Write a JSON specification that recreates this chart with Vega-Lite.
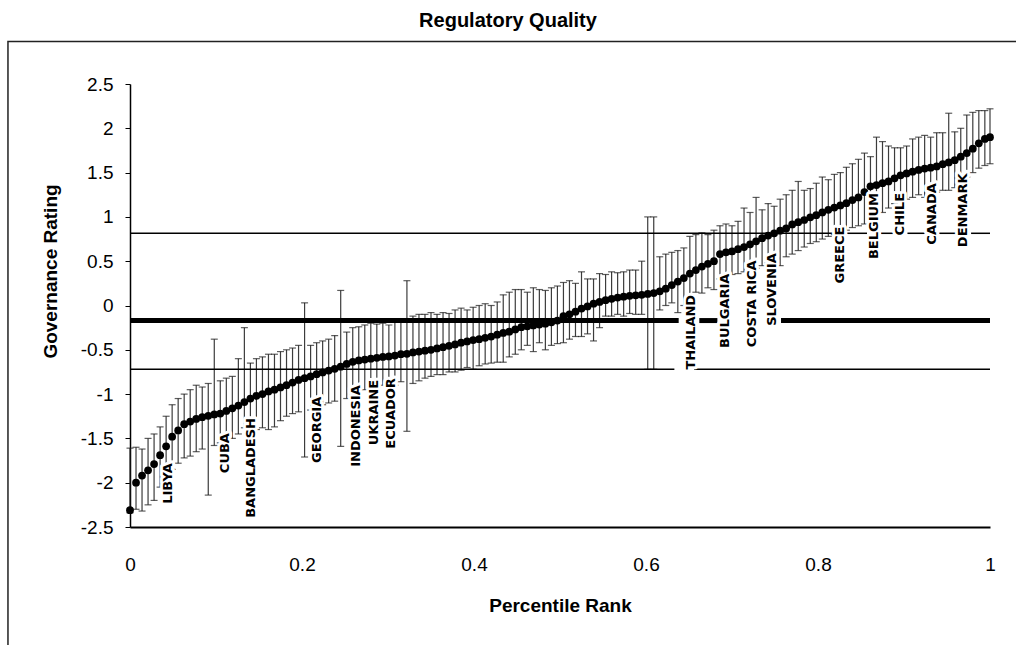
{
  "$schema": "https://vega.github.io/schema/vega-lite/v6.json",
  "width": 860,
  "height": 443,
  "autosize": {"type": "none"},
  "padding": {"left": 130, "top": 84, "right": 26, "bottom": 118},
  "background": "white",
  "title": {
    "text": "Regulatory Quality",
    "font": "Liberation Sans",
    "fontSize": 20,
    "fontWeight": "bold",
    "color": "black",
    "anchor": "middle",
    "frame": "group",
    "dx": -52,
    "offset": 10
  },
  "config": {
    "view": {"stroke": null},
    "axis": {"grid": false, "domainColor": "black", "tickColor": "black", "labelColor": "black", "titleColor": "black"}
  },
  "datasets": {
    "pts": [
      {"p":0,"v":-2.31,"lo":-2.34,"hi":-1.61},
      {"p":0.007,"v":-2.0,"lo":-2.3,"hi":-1.6},
      {"p":0.014,"v":-1.92,"lo":-2.32,"hi":-1.62},
      {"p":0.021,"v":-1.86,"lo":-2.25,"hi":-1.5},
      {"p":0.028,"v":-1.79,"lo":-2.2,"hi":-1.45},
      {"p":0.035,"v":-1.69,"lo":-2.05,"hi":-1.37},
      {"p":0.042,"v":-1.59,"lo":-1.96,"hi":-1.25},
      {"p":0.049,"v":-1.48,"lo":-1.85,"hi":-1.12},
      {"p":0.056,"v":-1.41,"lo":-1.78,"hi":-1.05},
      {"p":0.063,"v":-1.34,"lo":-1.72,"hi":-1.0},
      {"p":0.07,"v":-1.31,"lo":-1.7,"hi":-0.95},
      {"p":0.077,"v":-1.28,"lo":-1.65,"hi":-0.9},
      {"p":0.084,"v":-1.26,"lo":-1.62,"hi":-0.92},
      {"p":0.091,"v":-1.245,"lo":-2.14,"hi":-0.88},
      {"p":0.098,"v":-1.23,"lo":-1.58,"hi":-0.38},
      {"p":0.105,"v":-1.22,"lo":-1.55,"hi":-0.85},
      {"p":0.112,"v":-1.19,"lo":-1.53,"hi":-0.82},
      {"p":0.119,"v":-1.16,"lo":-1.5,"hi":-0.8},
      {"p":0.126,"v":-1.13,"lo":-1.45,"hi":-0.6},
      {"p":0.133,"v":-1.09,"lo":-1.38,"hi":-0.25},
      {"p":0.14,"v":-1.05,"lo":-1.42,"hi":-0.65},
      {"p":0.147,"v":-1.02,"lo":-1.4,"hi":-0.6},
      {"p":0.154,"v":-1.0,"lo":-1.38,"hi":-0.58},
      {"p":0.161,"v":-0.97,"lo":-1.4,"hi":-0.55},
      {"p":0.168,"v":-0.95,"lo":-1.37,"hi":-0.55},
      {"p":0.175,"v":-0.925,"lo":-1.3,"hi":-0.52},
      {"p":0.182,"v":-0.9,"lo":-1.25,"hi":-0.5},
      {"p":0.189,"v":-0.87,"lo":-1.22,"hi":-0.48},
      {"p":0.196,"v":-0.84,"lo":-1.2,"hi":-0.45},
      {"p":0.203,"v":-0.82,"lo":-1.71,"hi":0.03},
      {"p":0.21,"v":-0.8,"lo":-1.18,"hi":-0.45},
      {"p":0.217,"v":-0.775,"lo":-1.15,"hi":-0.42},
      {"p":0.224,"v":-0.755,"lo":-1.12,"hi":-0.4},
      {"p":0.231,"v":-0.735,"lo":-1.1,"hi":-0.38},
      {"p":0.238,"v":-0.715,"lo":-1.08,"hi":-0.34},
      {"p":0.245,"v":-0.69,"lo":-1.59,"hi":0.17},
      {"p":0.252,"v":-0.66,"lo":-1.05,"hi":-0.3},
      {"p":0.259,"v":-0.635,"lo":-1.0,"hi":-0.25},
      {"p":0.266,"v":-0.62,"lo":-0.95,"hi":-0.24},
      {"p":0.273,"v":-0.61,"lo":-0.95,"hi":-0.22},
      {"p":0.28,"v":-0.6,"lo":-0.92,"hi":-0.2},
      {"p":0.287,"v":-0.59,"lo":-0.92,"hi":-0.21},
      {"p":0.294,"v":-0.58,"lo":-0.9,"hi":-0.2},
      {"p":0.301,"v":-0.575,"lo":-0.88,"hi":-0.22},
      {"p":0.308,"v":-0.565,"lo":-0.9,"hi":-0.18},
      {"p":0.315,"v":-0.55,"lo":-0.86,"hi":-0.15},
      {"p":0.322,"v":-0.545,"lo":-1.42,"hi":0.28},
      {"p":0.329,"v":-0.53,"lo":-0.88,"hi":-0.12},
      {"p":0.336,"v":-0.52,"lo":-0.85,"hi":-0.1},
      {"p":0.343,"v":-0.51,"lo":-0.82,"hi":-0.1},
      {"p":0.35,"v":-0.5,"lo":-0.8,"hi":-0.08},
      {"p":0.357,"v":-0.485,"lo":-0.78,"hi":-0.1},
      {"p":0.364,"v":-0.47,"lo":-0.78,"hi":-0.08},
      {"p":0.371,"v":-0.455,"lo":-0.75,"hi":-0.09},
      {"p":0.378,"v":-0.44,"lo":-0.75,"hi":-0.05},
      {"p":0.385,"v":-0.42,"lo":-0.73,"hi":-0.03},
      {"p":0.392,"v":-0.405,"lo":-0.7,"hi":-0.05},
      {"p":0.399,"v":-0.39,"lo":-0.72,"hi":-0.02},
      {"p":0.406,"v":-0.38,"lo":-0.68,"hi":0.0},
      {"p":0.413,"v":-0.365,"lo":-0.66,"hi":0.02},
      {"p":0.42,"v":-0.35,"lo":-0.65,"hi":0.0},
      {"p":0.427,"v":-0.33,"lo":-0.64,"hi":0.04},
      {"p":0.434,"v":-0.31,"lo":-0.64,"hi":0.12},
      {"p":0.441,"v":-0.295,"lo":-0.58,"hi":0.15},
      {"p":0.448,"v":-0.27,"lo":-0.55,"hi":0.18},
      {"p":0.455,"v":-0.245,"lo":-0.5,"hi":0.18},
      {"p":0.462,"v":-0.235,"lo":-0.45,"hi":0.15},
      {"p":0.469,"v":-0.225,"lo":-0.52,"hi":0.2},
      {"p":0.476,"v":-0.215,"lo":-0.42,"hi":0.18},
      {"p":0.483,"v":-0.205,"lo":-0.5,"hi":0.17},
      {"p":0.49,"v":-0.19,"lo":-0.45,"hi":0.2},
      {"p":0.497,"v":-0.17,"lo":-0.43,"hi":0.22},
      {"p":0.504,"v":-0.12,"lo":-0.42,"hi":0.26},
      {"p":0.511,"v":-0.1,"lo":-0.38,"hi":0.28},
      {"p":0.518,"v":-0.07,"lo":-0.35,"hi":0.25},
      {"p":0.525,"v":-0.035,"lo":-0.35,"hi":0.38},
      {"p":0.532,"v":-0.01,"lo":-0.32,"hi":0.3},
      {"p":0.539,"v":0.02,"lo":-0.4,"hi":0.3},
      {"p":0.546,"v":0.04,"lo":-0.25,"hi":0.36},
      {"p":0.553,"v":0.06,"lo":-0.12,"hi":0.35},
      {"p":0.56,"v":0.075,"lo":-0.12,"hi":0.38},
      {"p":0.567,"v":0.09,"lo":-0.1,"hi":0.37},
      {"p":0.574,"v":0.1,"lo":-0.12,"hi":0.38},
      {"p":0.581,"v":0.11,"lo":-0.09,"hi":0.4},
      {"p":0.588,"v":0.115,"lo":-0.1,"hi":0.4},
      {"p":0.595,"v":0.12,"lo":-0.1,"hi":0.5},
      {"p":0.602,"v":0.13,"lo":-0.72,"hi":1.0},
      {"p":0.609,"v":0.14,"lo":-0.72,"hi":1.0},
      {"p":0.616,"v":0.16,"lo":-0.05,"hi":0.55},
      {"p":0.623,"v":0.19,"lo":0.0,"hi":0.58},
      {"p":0.63,"v":0.23,"lo":0.03,"hi":0.6},
      {"p":0.637,"v":0.27,"lo":-0.08,"hi":0.62},
      {"p":0.644,"v":0.31,"lo":0.0,"hi":0.65},
      {"p":0.651,"v":0.36,"lo":0.12,"hi":0.78},
      {"p":0.658,"v":0.4,"lo":0.15,"hi":0.8},
      {"p":0.665,"v":0.44,"lo":0.14,"hi":0.82},
      {"p":0.672,"v":0.47,"lo":0.2,"hi":0.8},
      {"p":0.679,"v":0.5,"lo":0.18,"hi":0.85},
      {"p":0.686,"v":0.58,"lo":0.3,"hi":0.9},
      {"p":0.693,"v":0.6,"lo":0.32,"hi":0.92},
      {"p":0.7,"v":0.61,"lo":0.35,"hi":0.9},
      {"p":0.707,"v":0.635,"lo":0.36,"hi":0.95},
      {"p":0.714,"v":0.66,"lo":0.38,"hi":1.1},
      {"p":0.721,"v":0.69,"lo":0.4,"hi":1.05},
      {"p":0.728,"v":0.725,"lo":0.42,"hi":1.22},
      {"p":0.735,"v":0.76,"lo":0.45,"hi":1.08},
      {"p":0.742,"v":0.79,"lo":0.48,"hi":1.15},
      {"p":0.749,"v":0.815,"lo":0.5,"hi":1.12},
      {"p":0.756,"v":0.845,"lo":0.45,"hi":1.2},
      {"p":0.763,"v":0.87,"lo":0.55,"hi":1.25},
      {"p":0.77,"v":0.915,"lo":0.58,"hi":1.3},
      {"p":0.777,"v":0.94,"lo":0.62,"hi":1.4},
      {"p":0.784,"v":0.965,"lo":0.66,"hi":1.3},
      {"p":0.791,"v":0.995,"lo":0.7,"hi":1.32},
      {"p":0.798,"v":1.02,"lo":0.72,"hi":1.38},
      {"p":0.805,"v":1.05,"lo":0.75,"hi":1.45},
      {"p":0.812,"v":1.08,"lo":0.78,"hi":1.42},
      {"p":0.819,"v":1.105,"lo":0.8,"hi":1.48},
      {"p":0.826,"v":1.13,"lo":0.85,"hi":1.5},
      {"p":0.833,"v":1.155,"lo":0.85,"hi":1.56},
      {"p":0.84,"v":1.19,"lo":0.88,"hi":1.6},
      {"p":0.847,"v":1.22,"lo":0.9,"hi":1.65},
      {"p":0.854,"v":1.28,"lo":0.92,"hi":1.72},
      {"p":0.861,"v":1.345,"lo":1.0,"hi":1.68},
      {"p":0.868,"v":1.36,"lo":0.95,"hi":1.9},
      {"p":0.875,"v":1.38,"lo":1.05,"hi":1.85},
      {"p":0.882,"v":1.4,"lo":1.1,"hi":1.8},
      {"p":0.889,"v":1.435,"lo":1.15,"hi":1.78},
      {"p":0.896,"v":1.47,"lo":1.2,"hi":1.78},
      {"p":0.903,"v":1.49,"lo":1.2,"hi":1.8},
      {"p":0.91,"v":1.51,"lo":1.22,"hi":1.88},
      {"p":0.917,"v":1.53,"lo":1.25,"hi":1.9},
      {"p":0.924,"v":1.545,"lo":1.22,"hi":1.92},
      {"p":0.931,"v":1.555,"lo":1.25,"hi":1.9},
      {"p":0.938,"v":1.57,"lo":1.28,"hi":1.95},
      {"p":0.945,"v":1.595,"lo":1.3,"hi":1.95},
      {"p":0.952,"v":1.615,"lo":1.3,"hi":2.17},
      {"p":0.959,"v":1.64,"lo":1.33,"hi":1.96},
      {"p":0.966,"v":1.68,"lo":1.35,"hi":2.0},
      {"p":0.973,"v":1.72,"lo":1.45,"hi":2.15},
      {"p":0.98,"v":1.77,"lo":1.5,"hi":2.18},
      {"p":0.987,"v":1.83,"lo":1.55,"hi":2.2},
      {"p":0.994,"v":1.88,"lo":1.58,"hi":2.2},
      {"p":1.0,"v":1.9,"lo":1.6,"hi":2.22}
    ],
    "thinLines": [
      {"level":0.815,"from":0,"to":0.82},
      {"level":0.815,"from":0.834,"to":0.857},
      {"level":0.815,"from":0.873,"to":0.888},
      {"level":0.815,"from":0.904,"to":0.924},
      {"level":0.815,"from":0.941,"to":0.962},
      {"level":0.815,"from":0.978,"to":1},
      {"level":-0.72,"from":0,"to":0.633},
      {"level":-0.72,"from":0.656,"to":1}
    ],
    "thickLines": [
      {"level":-0.17,"from":0,"to":0.638},
      {"level":-0.17,"from":0.662,"to":0.683},
      {"level":-0.17,"from":0.757,"to":1}
    ],
    "countries": [
      {"name":"LIBYA","p":0.044,"top":-1.78},
      {"name":"CUBA","p":0.11,"top":-1.44},
      {"name":"BANGLADESH","p":0.141,"top":-1.27},
      {"name":"GEORGIA","p":0.217,"top":-1.03},
      {"name":"INDONESIA","p":0.263,"top":-0.9},
      {"name":"UKRAINE","p":0.284,"top":-0.84},
      {"name":"ECUADOR","p":0.304,"top":-0.82},
      {"name":"THAILAND","p":0.652,"top":0.12},
      {"name":"BULGARIA","p":0.692,"top":0.36},
      {"name":"COSTA RICA","p":0.723,"top":0.51},
      {"name":"SLOVENIA","p":0.746,"top":0.59},
      {"name":"GREECE","p":0.826,"top":0.89},
      {"name":"BELGIUM","p":0.865,"top":1.27},
      {"name":"CHILE","p":0.895,"top":1.27},
      {"name":"CANADA","p":0.932,"top":1.38},
      {"name":"DENMARK","p":0.969,"top":1.49}
    ]
  },
  "layer": [
    {
      "data": {"values": [{}]},
      "mark": {"type": "rect", "filled": false, "stroke": "#222", "strokeWidth": 1.5},
      "encoding": {
        "x": {"datum": -0.1419, "type": "quantitative", "scale": {"domain": [0, 1], "nice": false, "zero": false}},
        "x2": {"datum": 1.1},
        "y": {"datum": 2.98, "type": "quantitative", "scale": {"domain": [-2.5, 2.5], "nice": false, "zero": false}},
        "y2": {"datum": -4.2}
      }
    },
    {
      "data": {"name": "pts"},
      "mark": {"type": "rule", "color": "#1a1a1a", "strokeWidth": 1.2, "opacity": 0.85},
      "encoding": {
        "x": {
          "field": "p", "type": "quantitative",
          "scale": {"domain": [0, 1], "nice": false, "zero": false},
          "axis": {
            "values": [0, 0.2, 0.4, 0.6, 0.8, 1],
            "labelExpr": "format(datum.value, '~g')",
            "labelFlush": false,
            "tickSize": 0,
            "labelPadding": 28,
            "labelFont": "Liberation Sans",
            "labelFontSize": 19,
            "domainWidth": 2,
            "title": "Percentile Rank",
            "titleFont": "Liberation Sans",
            "titleFontSize": 19,
            "titleFontWeight": "bold",
            "titlePadding": 22
          }
        },
        "y": {
          "field": "lo", "type": "quantitative",
          "scale": {"domain": [-2.5, 2.5], "nice": false, "zero": false},
          "axis": {
            "values": [-2.5, -2, -1.5, -1, -0.5, 0, 0.5, 1, 1.5, 2, 2.5],
            "labelExpr": "replace(format(datum.value, '~g'), '−', '-')",
            "tickSize": 5,
            "labelPadding": 12,
            "labelFont": "Liberation Sans",
            "labelFontSize": 19,
            "domainWidth": 1.5,
            "title": "Governance Rating",
            "titleFont": "Liberation Sans",
            "titleFontSize": 19,
            "titleFontWeight": "bold",
            "titleX": -70,
            "titleY": 187
          }
        },
        "y2": {"field": "hi"}
      }
    },
    {
      "data": {"name": "pts"},
      "mark": {"type": "tick", "orient": "horizontal", "size": 7, "thickness": 1.2, "color": "#1a1a1a"},
      "encoding": {
        "x": {"field": "p", "type": "quantitative", "scale": {"domain": [0, 1]}},
        "y": {"field": "hi", "type": "quantitative", "scale": {"domain": [-2.5, 2.5]}}
      }
    },
    {
      "data": {"name": "pts"},
      "mark": {"type": "tick", "orient": "horizontal", "size": 7, "thickness": 1.2, "color": "#1a1a1a"},
      "encoding": {
        "x": {"field": "p", "type": "quantitative", "scale": {"domain": [0, 1]}},
        "y": {"field": "lo", "type": "quantitative", "scale": {"domain": [-2.5, 2.5]}}
      }
    },
    {
      "data": {"name": "thinLines"},
      "mark": {"type": "rule", "color": "black", "strokeWidth": 1.5},
      "encoding": {
        "x": {"field": "from", "type": "quantitative", "scale": {"domain": [0, 1]}},
        "x2": {"field": "to"},
        "y": {"field": "level", "type": "quantitative", "scale": {"domain": [-2.5, 2.5]}}
      }
    },
    {
      "data": {"name": "thickLines"},
      "mark": {"type": "rule", "color": "black", "strokeWidth": 5},
      "encoding": {
        "x": {"field": "from", "type": "quantitative", "scale": {"domain": [0, 1]}},
        "x2": {"field": "to"},
        "y": {"field": "level", "type": "quantitative", "scale": {"domain": [-2.5, 2.5]}}
      }
    },
    {
      "data": {"name": "pts"},
      "mark": {"type": "circle", "size": 60, "color": "black", "opacity": 1},
      "encoding": {
        "x": {"field": "p", "type": "quantitative", "scale": {"domain": [0, 1]}},
        "y": {"field": "v", "type": "quantitative", "scale": {"domain": [-2.5, 2.5]}}
      }
    },
    {
      "data": {"name": "countries"},
      "mark": {"type": "text", "angle": 270, "align": "right", "baseline": "middle", "font": "DejaVu Sans", "fontWeight": "bold", "fontSize": 13, "color": "white", "stroke": "white", "strokeWidth": 6, "strokeJoin": "round"},
      "encoding": {
        "x": {"field": "p", "type": "quantitative", "scale": {"domain": [0, 1]}},
        "y": {"field": "top", "type": "quantitative", "scale": {"domain": [-2.5, 2.5]}},
        "text": {"field": "name"}
      }
    },
    {
      "data": {"name": "countries"},
      "mark": {"type": "text", "angle": 270, "align": "right", "baseline": "middle", "font": "DejaVu Sans", "fontWeight": "bold", "fontSize": 13, "color": "black"},
      "encoding": {
        "x": {"field": "p", "type": "quantitative", "scale": {"domain": [0, 1]}},
        "y": {"field": "top", "type": "quantitative", "scale": {"domain": [-2.5, 2.5]}},
        "text": {"field": "name"}
      }
    }
  ]
}
